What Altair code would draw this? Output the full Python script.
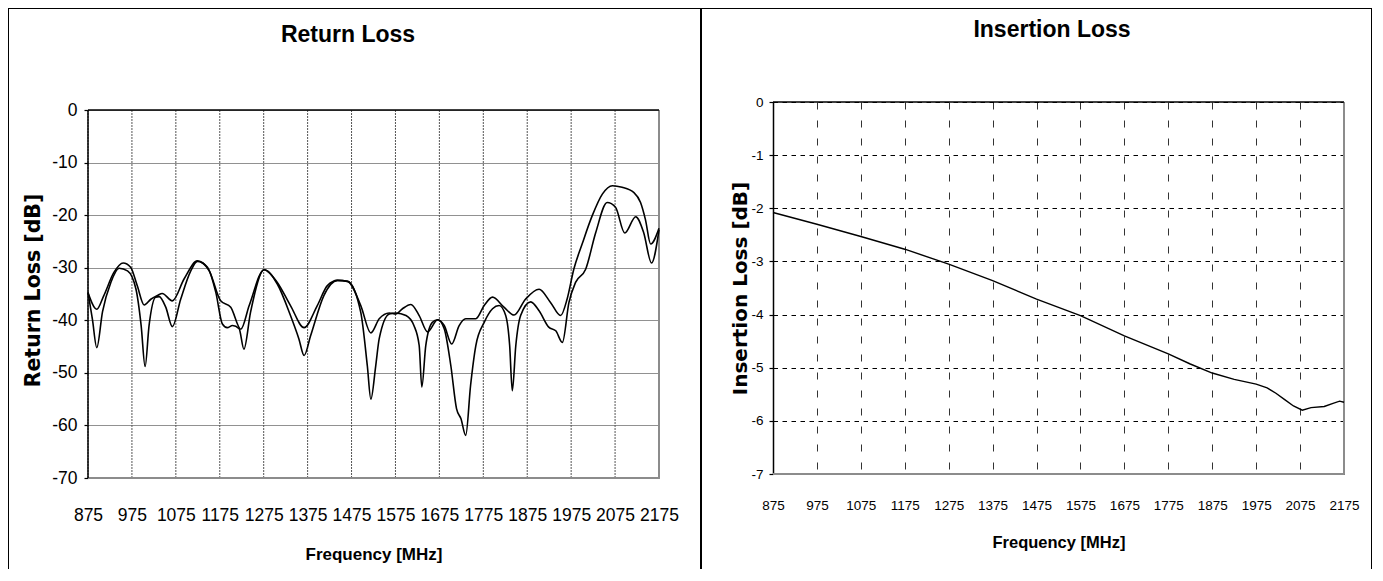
import altair as alt
import pandas as pd

# ---------------- data ----------------
freq_ticks = [875, 975, 1075, 1175, 1275, 1375, 1475, 1575, 1675, 1775, 1875, 1975, 2075, 2175]
rl_ticks = [-70, -60, -50, -40, -30, -20, -10, 0]
il_ticks = [-7, -6, -5, -4, -3, -2, -1, 0]

# Return loss, trace 1 (shallower dips)
rl1_freq = [875, 895, 911, 934, 955, 972, 987, 1003, 1018, 1033, 1044, 1067, 1094, 1124,
            1151, 1177, 1200, 1223, 1242, 1276, 1306, 1336, 1367, 1397, 1420, 1443, 1466,
            1496, 1519, 1538, 1561, 1576, 1591, 1610, 1629, 1648, 1671, 1686, 1703, 1720,
            1735, 1758, 1777, 1796, 1822, 1845, 1871, 1902, 1928, 1951, 1966, 1981, 2000,
            2023, 2046, 2069, 2091, 2118, 2133, 2144, 2156, 2175]
rl1_db = [-34.7, -37.9, -35.3, -30.9, -29.1, -29.9, -33.4, -37.1, -36.0, -35.3, -34.9, -36.3,
          -32.1, -28.7, -30.6, -36.3, -37.5, -41.7, -37.2, -30.4, -32.8, -37.2, -41.4, -37.2,
          -33.4, -32.4, -32.6, -37.2, -42.4, -39.7, -38.6, -38.8, -37.8, -37.0, -39.1, -42.2,
          -39.9, -41.0, -44.5, -41.0, -39.7, -39.7, -37.2, -35.6, -37.5, -39.0, -36.0, -34.1,
          -36.6, -39.1, -35.9, -30.3, -25.5, -20.1, -16.0, -14.4, -14.7, -15.7, -17.6, -20.8,
          -25.5, -22.5]

# Return loss, trace 2 (deeper dips)
rl2_freq = [875, 885, 895, 908, 927, 946, 965, 984, 996, 1005, 1014, 1029, 1037, 1052, 1067,
            1086, 1109, 1124, 1147, 1166, 1181, 1192, 1204, 1219, 1230, 1245, 1276, 1306,
            1336, 1355, 1367, 1382, 1412, 1443, 1466, 1496, 1511, 1519, 1530, 1538, 1561,
            1576, 1599, 1617, 1629, 1635, 1644, 1659, 1671, 1686, 1701, 1714, 1724, 1735,
            1746, 1758, 1777, 1796, 1811, 1826, 1835, 1841, 1849, 1860, 1883, 1902, 1924,
            1940, 1955, 1970, 1985, 2008, 2031, 2057, 2076, 2097, 2122, 2140, 2158, 2175]
rl2_db = [-34.7, -39.8, -45.2, -38.4, -32.8, -30.1, -30.6, -34.0, -41.0, -48.8, -41.0, -35.6,
          -35.5, -37.5, -41.2, -36.0, -30.6, -28.8, -29.9, -34.7, -40.7, -41.4, -41.0, -41.6,
          -45.5, -38.5, -30.4, -33.1, -39.1, -43.5, -46.7, -42.9, -35.3, -32.4, -32.6, -38.5,
          -48.7, -55.0, -48.7, -43.5, -38.8, -38.6, -39.1, -41.0, -44.8, -52.7, -44.8, -40.4,
          -39.9, -41.6, -48.6, -56.8, -58.7, -61.9, -52.4, -44.8, -40.4, -37.8, -37.2, -39.1,
          -44.8, -53.4, -44.8, -39.1, -36.5, -38.2, -41.3, -42.0, -44.2, -36.6, -32.8, -30.3,
          -23.3, -17.6, -18.5, -23.4, -20.3, -23.3, -29.1, -22.8]

# Insertion loss
il_freq = [875, 975, 1075, 1175, 1275, 1375, 1475, 1575, 1675, 1775, 1825, 1875, 1925, 1975,
           2000, 2020, 2040, 2060, 2080, 2100, 2130, 2150, 2165, 2175]
il_db = [-2.08, -2.30, -2.53, -2.77, -3.05, -3.36, -3.71, -4.02, -4.40, -4.74, -4.93, -5.10,
         -5.22, -5.31, -5.38, -5.48, -5.60, -5.72, -5.80, -5.75, -5.73, -5.67, -5.63, -5.65]

# ---------------- style ----------------
SANS = "Liberation Sans, Arial, sans-serif"
WIDE_BOLD = "DejaVu Sans, Verdana, sans-serif"
GRAY = "#8c8c8c"
LBL = "'' + datum.value"
one = pd.DataFrame({"k": [0]})

# layout targets (absolute page px); both plot tops share the row top
PLOT_TOP = 103
L_X0, L_W, L_BOTTOM = 89, 571, 479
R_X0, R_W, R_BOTTOM = 773, 571, 475
TOP, BOTTOM, DIV, RIGHT, LEFT = 9, 570, 701, 1372, 9
L_H = L_BOTTOM - PLOT_TOP
R_H = R_BOTTOM - PLOT_TOP
L_DBTOP = 70.0 * (111 - PLOT_TOP) / (L_BOTTOM - 111)   # left frame top (0 dB) sits at y=111


def vrule(x, y1, y2, color="black", w=2):
    return alt.Chart(one).mark_rule(color=color, strokeWidth=w, strokeCap="butt").encode(
        x=alt.value(x), y=alt.value(y1), y2=alt.value(y2))


def hrule(y, x1, x2, color="black", w=2):
    return alt.Chart(one).mark_rule(color=color, strokeWidth=w, strokeCap="butt").encode(
        y=alt.value(y), x=alt.value(x1), x2=alt.value(x2))


# ---------------- left chart: Return Loss ----------------
rl_df = pd.concat([
    pd.DataFrame({"f": rl1_freq, "db": rl1_db, "s": "1"}),
    pd.DataFrame({"f": rl2_freq, "db": rl2_db, "s": "2"}),
])
grid_df = pd.DataFrame({"f": freq_ticks})

lx = alt.X("f:Q", scale=alt.Scale(domain=[875, 2175], nice=False, zero=False),
           axis=alt.Axis(values=freq_ticks, labelExpr=LBL, title="Frequency [MHz]",
                         grid=False, domain=False, ticks=False, labelOverlap=False, labelFlush=False,
                         labelFont=SANS, labelFontSize=17.5, labelColor="black", labelPadding=28,
                         titleFont=SANS, titleFontSize=17, titleFontWeight="bold",
                         titleColor="black", titlePadding=23))
ly = alt.Y("db:Q", scale=alt.Scale(domain=[-70, L_DBTOP], nice=False, zero=False),
           axis=alt.Axis(values=rl_ticks, labelExpr=LBL, title="Return Loss [dB]",
                         grid=True, gridDash=[1, 1], gridColor="#222", gridWidth=1.2,
                         domain=False, ticks=True, tickSize=4, tickColor="black", tickWidth=1.2,
                         labelOverlap=False, labelFlush=False,
                         labelFont=SANS, labelFontSize=17.5, labelColor="black", labelPadding=7,
                         titleFont=WIDE_BOLD, titleFontSize=20.5, titleFontWeight="bold",
                         titleColor="black", titlePadding=8))

left_vgrid = alt.Chart(grid_df).mark_rule(color="#555", strokeWidth=1, strokeDash=[2, 1]).encode(
    x=lx, y=alt.datum(0), y2=alt.datum(-70))
left_lines = alt.Chart(rl_df).mark_line(color="black", strokeWidth=1.6, interpolate="monotone").encode(
    x=lx, y=ly, detail="s:N")
left_frame = [
    alt.Chart(one).mark_rule(color=GRAY, strokeWidth=2).encode(y=alt.datum(-70)),
    alt.Chart(one).mark_rule(color=GRAY, strokeWidth=2).encode(
        x=alt.value(L_W), y=alt.datum(0), y2=alt.datum(-70)),
    alt.Chart(one).mark_rule(color="black", strokeWidth=1.5).encode(y=alt.datum(0)),
    alt.Chart(one).mark_rule(color="black", strokeWidth=1.5).encode(
        x=alt.value(0), y=alt.datum(0), y2=alt.datum(-70)),
]
left_title = alt.Chart(one).mark_text(text="Return Loss", font=SANS, fontSize=23, fontWeight="bold",
                                      align="center", baseline="middle", color="black").encode(
    x=alt.value(349 - L_X0), y=alt.value(36 - PLOT_TOP))

left = alt.layer(
    left_vgrid, *left_frame, left_lines, left_title,
    vrule(LEFT - L_X0, TOP - 1 - PLOT_TOP, BOTTOM - PLOT_TOP),
    hrule(TOP - PLOT_TOP, LEFT - 1 - L_X0, DIV - L_X0),
).properties(width=L_W, height=L_H)

# ---------------- right chart: Insertion Loss ----------------
il_df = pd.DataFrame({"f": il_freq, "db": il_db})

rx = alt.X("f:Q", scale=alt.Scale(domain=[875, 2175], nice=False, zero=False),
           axis=alt.Axis(values=freq_ticks, labelExpr=LBL, title="Frequency [MHz]",
                         grid=True, gridDash=[7, 11], gridColor="#333", gridWidth=1,
                         domain=False, ticks=False, labelOverlap=False, labelFlush=False,
                         labelFont=SANS, labelFontSize=13.5, labelColor="black", labelPadding=24,
                         titleFont=SANS, titleFontSize=16.5, titleFontWeight="bold",
                         titleColor="black", titlePadding=23))
ry = alt.Y("db:Q", scale=alt.Scale(domain=[-7, 0], nice=False, zero=False),
           axis=alt.Axis(values=il_ticks, labelExpr=LBL, title="Insertion Loss [dB]",
                         grid=True, gridDash=[4.5, 4.5], gridColor="black", gridWidth=1,
                         domain=True, domainColor="black", domainWidth=1.5,
                         ticks=True, tickSize=4, tickColor="black", tickWidth=1.2,
                         labelOverlap=False, labelFlush=False,
                         labelFont=SANS, labelFontSize=13.5, labelColor="black", labelPadding=6,
                         titleFont=WIDE_BOLD, titleFontSize=20, titleFontWeight="bold",
                         titleColor="black", titlePadding=0))

right_line = alt.Chart(il_df).mark_line(color="black", strokeWidth=1.4).encode(x=rx, y=ry)
right_frame = [
    alt.Chart(one).mark_rule(color=GRAY, strokeWidth=2).encode(y=alt.datum(-7)),
    alt.Chart(one).mark_rule(color=GRAY, strokeWidth=2).encode(
        x=alt.value(R_W), y=alt.datum(0), y2=alt.datum(-7)),
    alt.Chart(one).mark_rule(color="black", strokeWidth=1.5).encode(y=alt.datum(0)),
]
right_title = alt.Chart(one).mark_text(text="Insertion Loss", font=SANS, fontSize=23, fontWeight="bold",
                                       align="center", baseline="middle", color="black").encode(
    x=alt.value(1052 - R_X0), y=alt.value(31 - PLOT_TOP))

right = alt.layer(
    *right_frame, right_line, right_title,
    vrule(DIV - R_X0, TOP - 1 - PLOT_TOP, BOTTOM - PLOT_TOP),
    vrule(RIGHT - R_X0, TOP - 1 - PLOT_TOP, BOTTOM - PLOT_TOP),
    hrule(TOP - PLOT_TOP, DIV - R_X0, RIGHT + 1 - R_X0),
).properties(width=R_W, height=R_H)

chart = alt.hconcat(left, right, spacing=-3, bounds="full").properties(
    padding={"left": -3, "top": -3, "right": -3, "bottom": 0}, background="white"
).configure_view(stroke="transparent")

chart.save("out.html", embed_options={"renderer": "svg", "actions": False})
